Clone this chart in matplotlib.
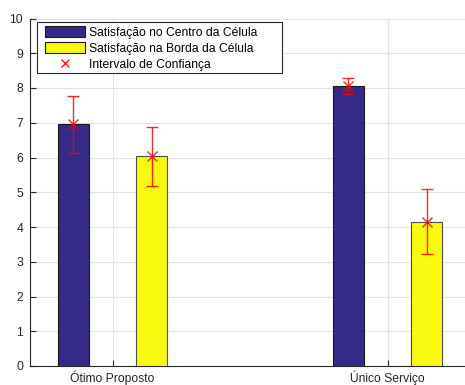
import matplotlib
matplotlib.use("Agg")
import matplotlib.pyplot as plt
import numpy as np
from matplotlib.lines import Line2D
from matplotlib.patches import Patch, Rectangle

# Data
categories = ["Ótimo Proposto", "Único Serviço"]
centro_mean = [6.95, 8.05]
borda_mean = [6.04, 4.15]
centro_ci = [0.82, 0.23]
borda_ci = [0.85, 0.93]
series_labels = ["Satisfação no Centro da Célula",
                 "Satisfação na Borda da Célula",
                 "Intervalo de Confiança"]
yticks = list(range(0, 11))

FS = 8.7
plt.rcParams["font.family"] = ["Liberation Sans", "DejaVu Sans"]
plt.rcParams["font.size"] = FS

W, H = 465, 385
fig = plt.figure(figsize=(W / 100, H / 100), dpi=100)
ax = fig.add_axes([30 / W, 19 / H, 440 / W, 347.5 / H])

x = np.arange(1, len(categories) + 1)
offset = 0.142
width = 0.115
blue = "#352a87"
yellow = "#f9fb0e"

ax.bar(x - offset, centro_mean, width, color=blue, edgecolor="#1a1a1a",
       linewidth=0.8, zorder=3)
ax.bar(x + offset, borda_mean, width, color=yellow, edgecolor="#4d4d4d",
       linewidth=0.8, zorder=3)

for xs, m, e in [(x - offset, centro_mean, centro_ci),
                 (x + offset, borda_mean, borda_ci)]:
    ax.errorbar(xs, m, yerr=e, fmt="x", color="red", ecolor="red",
                elinewidth=1.0, capsize=4, capthick=1.0, markersize=7,
                markeredgewidth=1.0, alpha=0.85, zorder=4)

ax.set_xlim(0.7, 2.3)
ax.set_ylim(0, 10)
ax.set_yticks(yticks)
ax.set_xticks(x)
ax.set_xticklabels(categories)

ax.grid(True, color="#e3e3e3", linewidth=0.8, zorder=0)
ax.set_axisbelow(True)
for s in ["top", "right"]:
    ax.spines[s].set_visible(False)
for s in ["left", "bottom"]:
    ax.spines[s].set_color("#262626")
    ax.spines[s].set_linewidth(0.8)
ax.tick_params(axis="both", direction="in", length=4, width=0.8,
               colors="#262626", labelsize=FS)
ax.tick_params(axis="y", pad=5)
ax.tick_params(axis="x", pad=3.5)

# Legend: frame drawn as its own rectangle, entries placed inside it
def fig_px(px, py):
    return px / W, 1 - py / H

x0, y0 = fig_px(37, 73)
x1, y1 = fig_px(282, 22)
fig.patches.append(Rectangle((x0, y0), x1 - x0, y1 - y0,
                             transform=fig.transFigure, facecolor="white",
                             edgecolor="#262626", linewidth=0.8, zorder=5))

handles = [Patch(facecolor=blue, edgecolor="#1a1a1a", linewidth=0.8),
           Patch(facecolor=yellow, edgecolor="#1a1a1a", linewidth=0.8),
           Line2D([], [], color="red", marker="x", linestyle="none",
                  markersize=6, markeredgewidth=0.9)]
lx, ly = fig_px(45, 26.5)
leg = fig.legend(handles, series_labels, loc="upper left",
                 bbox_to_anchor=(lx, ly), frameon=False, fontsize=FS,
                 handlelength=3.3, handleheight=1.0, labelspacing=0.28,
                 borderpad=0, handletextpad=0.35, borderaxespad=0)
leg.set_zorder(6)

fig.savefig("out.png", dpi=100)
